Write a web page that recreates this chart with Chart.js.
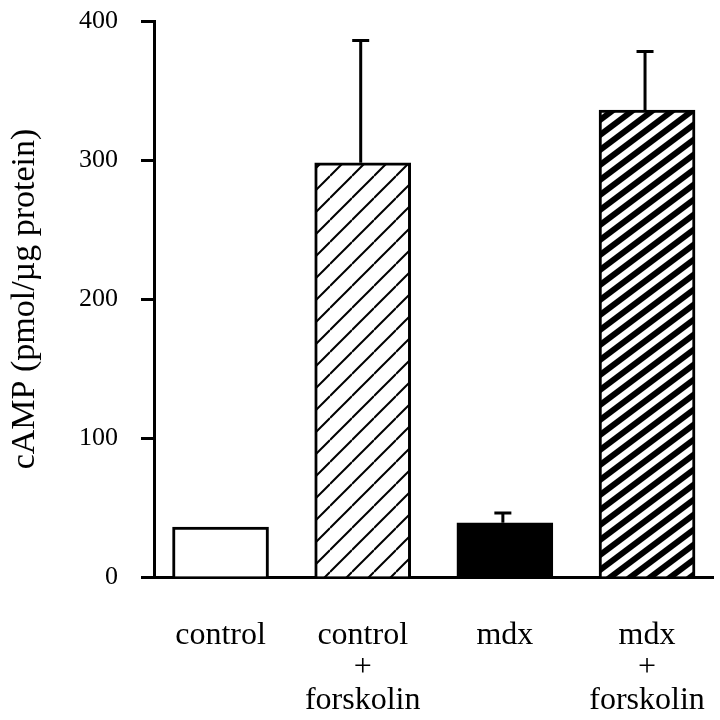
<!DOCTYPE html>
<html><head><meta charset="utf-8">
<script src="https://cdn.jsdelivr.net/npm/chart.js@4.4.0/dist/chart.umd.min.js"></script>
<style>html,body{margin:0;padding:0;background:#fff;}</style>
</head><body>
<canvas id="c" width="720" height="720" style="width:720px;height:720px;display:block"></canvas>
<script>
const categories = [["control"], ["control", "+", "forskolin"], ["mdx"], ["mdx", "+", "forskolin"]];
const means = [36, 298, 39, 336];
const sem = [0, 88, 7, 42];
const yTicks = [0, 100, 200, 300, 400];
const yTitle = "cAMP (pmol/\u00b5g protein)";

function stripePattern(w, h, thick, lineW) {
  const cv = document.createElement('canvas');
  cv.width = w; cv.height = h;
  const g = cv.getContext('2d');
  g.fillStyle = '#fff'; g.fillRect(0, 0, w, h);
  g.fillStyle = '#000'; g.strokeStyle = '#000';
  for (let k = -1; k <= 1; k++) {
    if (thick) {
      g.beginPath();
      g.moveTo(0, h + k * h - thick / 2);
      g.lineTo(w, k * h - thick / 2);
      g.lineTo(w, k * h + thick / 2);
      g.lineTo(0, h + k * h + thick / 2);
      g.closePath(); g.fill();
    } else {
      g.lineWidth = lineW;
      g.beginPath();
      g.moveTo(0, h + k * h);
      g.lineTo(w, k * h);
      g.stroke();
    }
  }
  return g.createPattern(cv, 'repeat');
}
const ctx = document.getElementById('c').getContext('2d');
const thinHatch = stripePattern(22, 22, 0, 2);
const thickHatch = stripePattern(20, 15, 7.5, 0);

const errorBars = {
  id: 'errorBars',
  afterDatasetsDraw(chart) {
    const meta = chart.getDatasetMeta(0);
    const ys = chart.scales.y;
    const c = chart.ctx;
    c.save();
    c.strokeStyle = '#000';
    c.lineWidth = 3;
    meta.data.forEach((bar, i) => {
      if (!sem[i]) return;
      const x = bar.x - 2;
      const y0 = ys.getPixelForValue(means[i]);
      const y1 = ys.getPixelForValue(means[i] + sem[i]);
      c.beginPath();
      c.moveTo(x, y0); c.lineTo(x, y1);
      c.moveTo(x - 8.5, y1); c.lineTo(x + 8.5, y1);
      c.stroke();
    });
    c.restore();
  }
};

new Chart(ctx, {
  type: 'bar',
  data: {
    datasets: [{
      data: means.map((v, i) => ({ x: i, y: v })),
      backgroundColor: ['#ffffff', thinHatch, '#000000', thickHatch],
      borderColor: '#000',
      borderWidth: 3,
      barThickness: 96
    }]
  },
  options: {
    responsive: false,
    animation: false,
    devicePixelRatio: 1,
    layout: { padding: { top: 21, right: 7, left: 0, bottom: 0 } },
    plugins: { legend: { display: false }, tooltip: { enabled: false } },
    scales: {
      x: {
        type: 'linear',
        offset: false,
        min: -0.468, max: 3.464,
        afterBuildTicks: s => { s.ticks = categories.map((_, i) => ({ value: i })); },
        afterFit: s => { s.height = 143; s.paddingLeft = 0; s.paddingRight = 0; },
        grid: { display: false, drawTicks: false, offset: false },
        border: { display: true, color: '#000', width: 3 },
        ticks: {
          callback: v => categories[v],
          color: '#000',
          font: { family: 'Liberation Serif', size: 32, lineHeight: 1.02 },
          padding: 42, maxRotation: 0, autoSkip: false
        }
      },
      y: {
        min: 0, max: 400,
        afterBuildTicks: s => { s.ticks = yTicks.map(v => ({ value: v })); },
        afterFit: s => { s.width = 154; s.paddingTop = 0; s.paddingBottom = 0; },
        grid: { drawOnChartArea: false, drawTicks: true, tickLength: 13, tickWidth: 3, tickColor: '#000', color: '#000' },
        border: { display: true, color: '#000', width: 3 },
        ticks: {
          color: '#000',
          font: { family: 'Liberation Serif', size: 26 },
          padding: 23
        },
        title: {
          display: true, text: yTitle, color: '#000',
          font: { family: 'Liberation Serif', size: 34 },
          padding: { top: 5, bottom: 0 }
        }
      }
    }
  },
  plugins: [errorBars]
});
</script>
</body></html>
